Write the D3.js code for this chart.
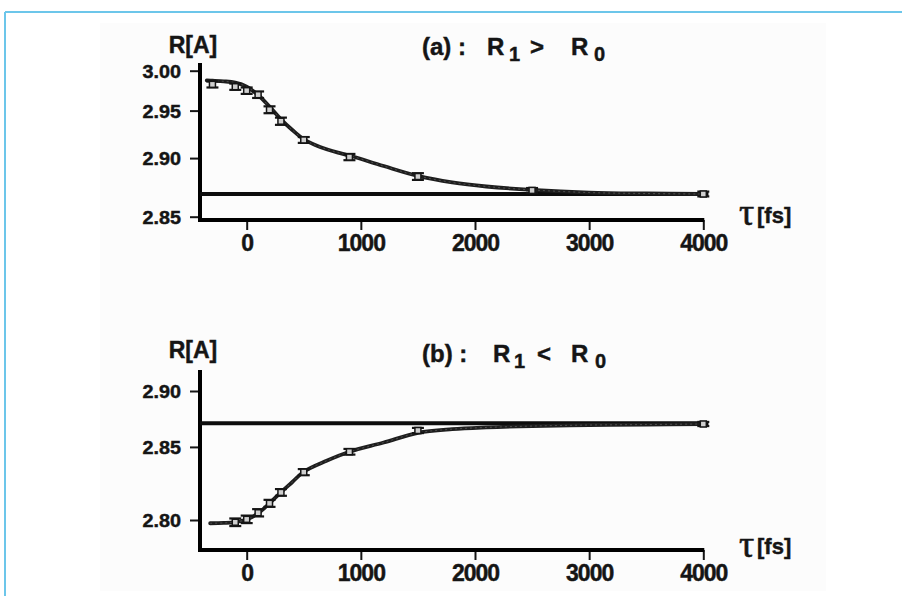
<!DOCTYPE html>
<html><head><meta charset="utf-8">
<script src="https://cdn.jsdelivr.net/npm/d3@7"></script>
<style>body{margin:0;background:#fff}svg{display:block}</style>
</head><body><svg id="c" width="902" height="596"></svg>
<script>
// ---------- data ----------
const tauTicks = [0, 1000, 2000, 3000, 4000];
const yTicksA = [2.85, 2.90, 2.95, 3.00];
const yTicksB = [2.80, 2.85, 2.90];

const tauA = [-300, -100, 0, 100, 200, 300, 500, 900, 1500, 2500, 4000];
const rA   = [2.982, 2.979, 2.974, 2.969, 2.951, 2.938, 2.918, 2.901, 2.883, 2.871, 2.868];
const errA = [0.004, 0.004, 0.004, 0.004, 0.004, 0.004, 0.003, 0.003, 0.003, 0.002, 0.002];
const fitTauA = [-350, -300, -200, -100, 0, 100, 200, 300, 400, 500, 600, 700, 800, 900, 1200, 1500, 1800, 2100, 2500, 3000, 3500, 4000];
const fitRA   = [2.9870, 2.9867, 2.9859, 2.9841, 2.9790, 2.9686, 2.9546, 2.9401, 2.9284, 2.9187, 2.9128, 2.9086, 2.9053, 2.9025, 2.8925, 2.8835, 2.8778, 2.8743, 2.8714, 2.8692, 2.8684, 2.8680];
const r0A = 2.868;

const tauB = [-100, 0, 100, 200, 300, 500, 900, 1500, 4000];
const rB   = [2.7987, 2.8004, 2.8043, 2.8101, 2.8171, 2.8310, 2.8462, 2.8635, 2.8691];
const errB = [0.0022, 0.0022, 0.0022, 0.0022, 0.0022, 0.0022, 0.0022, 0.0022, 0.0018];
const fitTauB = [-320, -200, -100, 0, 100, 200, 300, 400, 500, 700, 900, 1200, 1500, 1800, 2100, 2500, 3000, 3500, 4000];
const fitRB   = [2.7981, 2.7983, 2.7988, 2.8003, 2.8040, 2.8101, 2.8172, 2.8241, 2.8313, 2.8393, 2.8462, 2.8535, 2.8615, 2.8646, 2.8661, 2.8673, 2.8682, 2.8686, 2.8691];
const r0B = 2.8697;

// ---------- layout ----------
const FONT = '"Liberation Sans", Arial, Helvetica, sans-serif';
const INK = '#151515';
const C0 = 2.66; // offset of the (scan-distorted) logarithmic R axis
const svg = d3.select('#c');

// scan background + frame
svg.append('rect').attr('x', 100).attr('y', 23).attr('width', 726).attr('height', 568).attr('fill', '#fcfcfc');
svg.append('line').attr('x1', 5).attr('x2', 902).attr('y1', 12).attr('y2', 12).attr('stroke', '#6cc6ea').attr('stroke-width', 2);
svg.append('line').attr('x1', 5).attr('x2', 5).attr('y1', 12).attr('y2', 596).attr('stroke', '#6cc6ea').attr('stroke-width', 2);

const x = d3.scaleLinear().domain([-409, 4000]).range([200, 703.3]);

const panels = [
  { tau: tauA, r: rA, err: errA, fitTau: fitTauA, fitR: fitRA, r0: r0A,
    yTicks: yTicksA, yDom: [3.00, 2.85], yRange: [70.7, 216.7], axisTop: 63, axisY: 220,
    lab: '(a) :', rel: '>', titleY: 55, r1x: 487, relx: 530, r0x: 571, s1x: 509, s0x: 594,
    raY: 53, tauY: 225 },
  { tau: tauB, r: rB, err: errB, fitTau: fitTauB, fitR: fitRB, r0: r0B,
    yTicks: yTicksB, yDom: [2.90, 2.80], yRange: [391, 520], axisTop: 370, axisY: 550,
    lab: '(b) :', rel: '<', titleY: 362, r1x: 493, relx: 537, r0x: 571, s1x: 514, s0x: 595,
    raY: 358, tauY: 556.5 }
];

const bold = (sel, size) => sel.attr('font-family', FONT).attr('font-weight', 'bold')
  .attr('font-size', size).attr('fill', INK).attr('stroke', INK).attr('stroke-width', 0.45);

panels.forEach(p => {
  const ys = d3.scaleLog().domain(p.yDom.map(v => v - C0)).range(p.yRange);
  const y = v => ys(v - C0);
  const g = svg.append('g');

  // y ticks & labels
  const ya = d3.axisLeft(ys).tickValues(p.yTicks.map(v => v - C0)).tickSize(10).tickSizeOuter(0)
    .tickFormat(d => d3.format('.2f')(d + C0));
  const yg = g.append('g').attr('transform', `translate(${x.range()[0]},0)`).call(ya);
  yg.select('.domain').remove();
  yg.selectAll('.tick line').attr('stroke', INK).attr('stroke-width', 2);
  bold(yg.selectAll('.tick text'), 18.5)
    .attr('x', 0).attr('dy', '0.36em')
    .attr('transform', 'translate(-19,0) scale(1.07,1)');

  // x ticks & labels
  const xa = d3.axisBottom(x).tickValues(tauTicks).tickSize(10).tickSizeOuter(0).tickFormat(d3.format('d'));
  const xg = g.append('g').attr('transform', `translate(0,${p.axisY})`).call(xa);
  xg.select('.domain').remove();
  xg.selectAll('.tick line').attr('stroke', INK).attr('stroke-width', 2);
  bold(xg.selectAll('.tick text'), 23)
    .attr('y', 31).attr('dy', 0).attr('letter-spacing', '-1px');

  // axis lines
  g.append('path')
    .attr('d', `M${x.range()[0]},${p.axisTop}V${p.axisY}H${x(4000) + 1}`)
    .attr('fill', 'none').attr('stroke', '#000').attr('stroke-width', 4).attr('stroke-linejoin', 'miter');

  // R0 reference line
  g.append('line').attr('x1', x.range()[0]).attr('x2', x(4045))
    .attr('y1', y(p.r0)).attr('y2', y(p.r0))
    .attr('stroke', '#0d0d0d').attr('stroke-width', 4);

  // fit curve
  const fit = p.fitTau.map((t, i) => [t, p.fitR[i]]);
  const line = d3.line().x(d => x(d[0])).y(d => y(d[1])).curve(d3.curveCatmullRom.alpha(0.5));
  g.append('path').datum(fit).attr('d', line)
    .attr('fill', 'none').attr('stroke', '#1e1e1e').attr('stroke-width', 3.8).attr('stroke-linecap', 'round');
  g.append('path').datum(fit).attr('d', line)
    .attr('fill', 'none').attr('stroke', '#5a5a5a').attr('stroke-width', 0.8).attr('stroke-dasharray', '2,3');

  // data points with error bars
  const pts = p.tau.map((t, i) => ({ t, r: p.r[i], e: p.err[i] }));
  const pg = g.selectAll('.pt').data(pts).enter().append('g')
    .attr('transform', d => `translate(${x(d.t)},0)`);
  pg.append('line').attr('x1', 0).attr('x2', 0)
    .attr('y1', d => y(d.r - d.e)).attr('y2', d => y(d.r + d.e))
    .attr('stroke', INK).attr('stroke-width', 1.6);
  [1, -1].forEach(s => {
    pg.append('line').attr('x1', -6).attr('x2', 6)
      .attr('y1', d => y(d.r + s * d.e)).attr('y2', d => y(d.r + s * d.e))
      .attr('stroke', INK).attr('stroke-width', 2.2);
  });
  pg.append('rect').attr('x', -3).attr('width', 6).attr('height', 6)
    .attr('y', d => y(d.r) - 3)
    .attr('fill', '#cfcfcf').attr('stroke', INK).attr('stroke-width', 1.5);

  // labels
  const txt = (tx, ty, s, size) => bold(svg.append('text').attr('x', tx).attr('y', ty).text(s), size);
  txt(193, p.raY, 'R[A]', 23).attr('text-anchor', 'middle');
  txt(422, p.titleY, p.lab, 24);
  txt(p.r1x, p.titleY, 'R', 24);
  txt(p.s1x, p.titleY + 6, '1', 20);
  txt(p.relx, p.titleY, p.rel, 24);
  txt(p.r0x, p.titleY, 'R', 24);
  txt(p.s0x, p.titleY + 6, '0', 20);
  svg.append('text').attr('x', 739).attr('y', p.tauY).text('τ')
    .attr('font-family', '"Liberation Serif", "DejaVu Serif", serif').attr('font-size', 38)
    .attr('fill', INK).attr('stroke', INK).attr('stroke-width', 0.6);
  txt(757, p.tauY - 2.5, '[fs]', 22);
});
</script>
</body></html>
